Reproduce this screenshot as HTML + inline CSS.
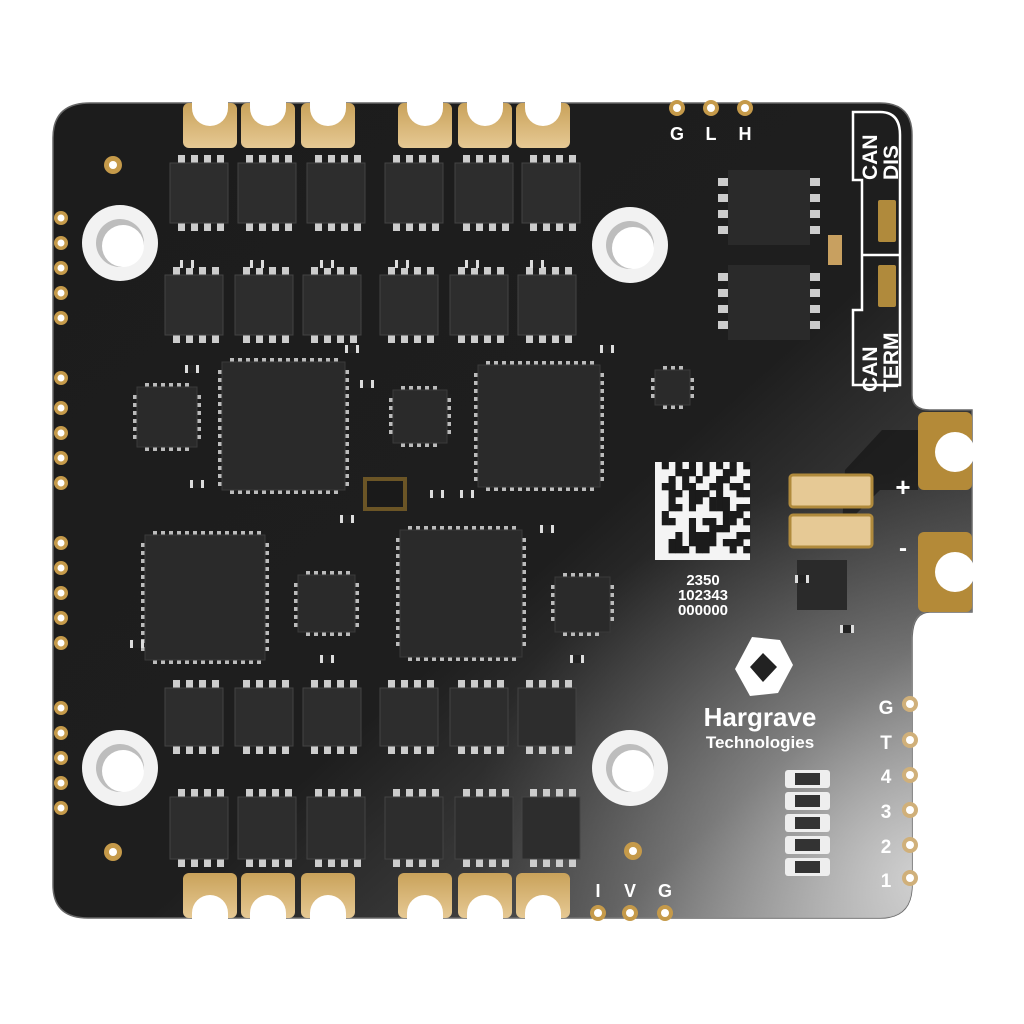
<!DOCTYPE html>
<html><head><meta charset="utf-8"><style>
html,body{margin:0;padding:0;background:#fff;width:1024px;height:1024px;overflow:hidden}
svg{display:block}
text{font-family:"Liberation Sans",Arial,sans-serif;font-weight:bold;fill:#fff}
</style></head><body>
<svg id="s" width="1024" height="1024" viewBox="0 0 1024 1024" xmlns="http://www.w3.org/2000/svg">
<defs>
<linearGradient id="bg" x1="0" y1="0" x2="1" y2="1">
<stop offset="0" stop-color="#1c1c1c"/><stop offset="0.55" stop-color="#1e1e1e"/><stop offset="0.8" stop-color="#4a4a4a"/><stop offset="1" stop-color="#b8b8b8"/>
</linearGradient>
<radialGradient id="br" cx="0.95" cy="0.95" r="0.5">
<stop offset="0" stop-color="#d8d8d8" stop-opacity="0.9"/><stop offset="1" stop-color="#888" stop-opacity="0"/>
</radialGradient>
<linearGradient id="gold" x1="0" y1="0" x2="0" y2="1"><stop offset="0" stop-color="#c9a25a"/><stop offset="1" stop-color="#e6c994"/></linearGradient>
</defs>
<path d="M90 103 H880 Q912 103 912 135 V395 Q912 410 930 410 H972 V612 H930 Q912 612 912 640 V885 Q912 918 880 918 H88 Q53 918 53 885 V138 Q53 103 90 103 Z" fill="url(#bg)" stroke="#666" stroke-width="1.5"/>
<path d="M90 103 H880 Q912 103 912 135 V395 Q912 410 930 410 H972 V612 H930 Q912 612 912 640 V885 Q912 918 880 918 H88 Q53 918 53 885 V138 Q53 103 90 103 Z" fill="url(#br)"/>
<g id="g"></g>
<path d="M853 112 H880 Q900 112 900 135 V385 H853 V310 H862 V180 H853 Z" fill="none" stroke="#fff" stroke-width="2.5"/>
<line x1="862" y1="255" x2="900" y2="255" stroke="#fff" stroke-width="2.5"/>
<rect x="878" y="200" width="18" height="42" rx="2" fill="#b08a3c"/>
<rect x="878" y="265" width="18" height="42" rx="2" fill="#b08a3c"/>
<text transform="translate(877,180) rotate(-90)" font-size="21">CAN</text>
<text transform="translate(898,180) rotate(-90)" font-size="21">DIS</text>
<text transform="translate(877,392) rotate(-90)" font-size="21">CAN</text>
<text transform="translate(898,392) rotate(-90)" font-size="21">TERM</text>
<path d="M845 470 L882 430 H918 V490 H880 L842 528 Z" fill="#151515" opacity="0.7"/>
<rect x="918" y="412" width="54" height="78" rx="6" fill="#b48a38"/>
<circle cx="955" cy="452" r="20" fill="#fff"/>
<rect x="918" y="532" width="54" height="80" rx="6" fill="#b48a38"/>
<circle cx="955" cy="572" r="20" fill="#fff"/>
<rect x="790" y="475" width="82" height="32" rx="3" fill="#e6c995" stroke="#b08a3c" stroke-width="3"/>
<rect x="790" y="515" width="82" height="32" rx="3" fill="#e6c995" stroke="#b08a3c" stroke-width="3"/>
<text x="903" y="496" font-size="26" text-anchor="middle">+</text>
<text x="903" y="556" font-size="24" text-anchor="middle">-</text>
<rect x="655" y="462" width="95" height="98" fill="#f4f4f4"/>
<g id="dm" fill="#1b1b1b"></g>
<text x="703" y="585" font-size="15" text-anchor="middle">2350</text>
<text x="703" y="600" font-size="15" text-anchor="middle">102343</text>
<text x="703" y="615" font-size="15" text-anchor="middle">000000</text>
<polygon points="752,637 780,640 793,665 778,693 750,696 735,669" fill="#fff"/>
<polygon points="763,653 777,667 763,682 750,667" fill="#222"/>
<text x="760" y="726" font-size="26" text-anchor="middle">Hargrave</text>
<text x="760" y="748" font-size="17" text-anchor="middle">Technologies</text>
<text x="677" y="140" font-size="18" text-anchor="middle">G</text>
<text x="711" y="140" font-size="18" text-anchor="middle">L</text>
<text x="745" y="140" font-size="18" text-anchor="middle">H</text>
<text x="598" y="897" font-size="18" text-anchor="middle">I</text>
<text x="630" y="897" font-size="18" text-anchor="middle">V</text>
<text x="665" y="897" font-size="18" text-anchor="middle">G</text>
<g font-size="19"><text x="886" y="714" text-anchor="middle">G</text><text x="886" y="749" text-anchor="middle">T</text><text x="886" y="783" text-anchor="middle">4</text><text x="886" y="818" text-anchor="middle">3</text><text x="886" y="853" text-anchor="middle">2</text><text x="886" y="887" text-anchor="middle">1</text></g>
</svg>
<script>
var g=document.getElementById('g'),h='';
function R(x,y,w,hh,f,ex){h+='<rect x="'+x+'" y="'+y+'" width="'+w+'" height="'+hh+'" fill="'+f+'" '+(ex||'')+'/>';}
function C(x,y,r,f,ex){h+='<circle cx="'+x+'" cy="'+y+'" r="'+r+'" fill="'+f+'" '+(ex||'')+'/>';}
[210,268,328,425,485,543].forEach(function(x){
 h+='<rect x="'+(x-27)+'" y="103" width="54" height="45" rx="6" fill="url(#gold)"/>';
 h+='<path d="M'+(x-18)+' 102 V108 A18 18 0 0 0 '+(x+18)+' 108 V102 Z" fill="#fff"/>';
 h+='<rect x="'+(x-27)+'" y="873" width="54" height="45" rx="6" fill="url(#gold)"/>';
 h+='<path d="M'+(x-18)+' 919 V913 A18 18 0 0 1 '+(x+18)+' 913 V919 Z" fill="#fff"/>';
});
function row(y,hh,xs,pinTop){xs.forEach(function(x){
 for(var i=0;i<4;i++){R(x+8+i*13,pinTop?y-8:y+hh,7,8,'#ccc');R(x+8+i*13,pinTop?y+hh:y-8,7,8,'#ccc');}
 R(x,y,58,hh,'#2d2d2d','stroke="#444"');});}
row(163,60,[170,238,307,385,455,522],false);
row(275,60,[165,235,303,380,450,518],true);
row(688,58,[165,235,303,380,450,518],true);
row(797,62,[170,238,307,385,455,522],false);
function qfn(x,y,w,hh){var n=Math.floor(w/8);for(var i=1;i<n;i++){R(x+i*8,y-4,4,4,'#bbb');R(x+i*8,y+hh,4,4,'#bbb');}
 var m=Math.floor(hh/8);for(var j=1;j<m;j++){R(x-4,y+j*8,4,4,'#bbb');R(x+w,y+j*8,4,4,'#bbb');}
 R(x,y,w,hh,'#2a2a2a','stroke="#3a3a3a"');}
qfn(222,362,123,128);qfn(478,365,122,122);qfn(145,535,120,125);qfn(400,530,122,127);
qfn(137,387,60,60);qfn(393,390,54,53);qfn(298,575,57,57);qfn(555,577,55,55);qfn(655,370,35,35);
R(363,477,44,34,'#6b5526');R(367,481,36,26,'#1a1a1a');
[[728,170],[728,265]].forEach(function(p){for(var i=0;i<4;i++){R(p[0]-10,p[1]+8+i*16,10,8,'#ccc');R(p[0]+82,p[1]+8+i*16,10,8,'#ccc');}R(p[0],p[1],82,75,'#2a2a2a');});
R(797,560,50,50,'#2a2a2a');
[[120,243],[630,245],[120,768],[630,768]].forEach(function(p){C(p[0],p[1],38,'#f2f2f2');C(p[0],p[1],24,'#bdbdbd');C(p[0]+3,p[1]+3,21,'#fff');});
[218,243,268,293,318,378,408,433,458,483,543,568,593,618,643,708,733,758,783,808].forEach(function(y){C(61,y,7,'#c59a4a');C(61,y,3.5,'#fff');});
[704,740,775,810,845,878].forEach(function(y){C(910,y,8,'#d0b07a');C(910,y,4,'#fff');});
[[677,108],[711,108],[745,108],[598,913],[630,913],[665,913]].forEach(function(p){C(p[0],p[1],8,'#c59a4a');C(p[0],p[1],4,'#fff');});
C(113,165,9,'#c59a4a');C(113,165,4,'#fff');C(113,852,9,'#c59a4a');C(113,852,4,'#fff');C(633,851,9,'#c59a4a');C(633,851,4,'#fff');
[[180,260],[250,260],[320,260],[395,260],[465,260],[530,260],[345,345],[600,345],[190,480],[340,515],[540,525],[130,640],[320,655],[570,655],[795,575],[840,625],[185,365],[360,380],[430,490],[460,490]].forEach(function(p){R(p[0],p[1],14,8,'#ddd');R(p[0]+3,p[1],8,8,'#222');});
for(var k=0;k<5;k++){R(785,770+k*22,45,18,'#eee','rx="3"');R(795,773+k*22,25,12,'#333');}
R(828,235,14,30,'#c8a060');
g.innerHTML=h;
var dm='',seed=7;function rnd(){seed=(seed*9301+49297)%233280;return seed/233280;}
var n=14,s=95/n;
for(var r=0;r<n;r++)for(var c=0;c<n;c++){var on;
 if(c==0||r==n-1)on=false;else if(r==0)on=(c%2==1);else if(c==n-1)on=(r%2==0);else on=rnd()<0.45;
 if(on)dm+='<rect x="'+(655+c*s)+'" y="'+(462+r*(98/n))+'" width="'+(s+0.3)+'" height="'+(98/n+0.3)+'"/>';}
document.getElementById('dm').innerHTML=dm;
</script>
</body></html>
